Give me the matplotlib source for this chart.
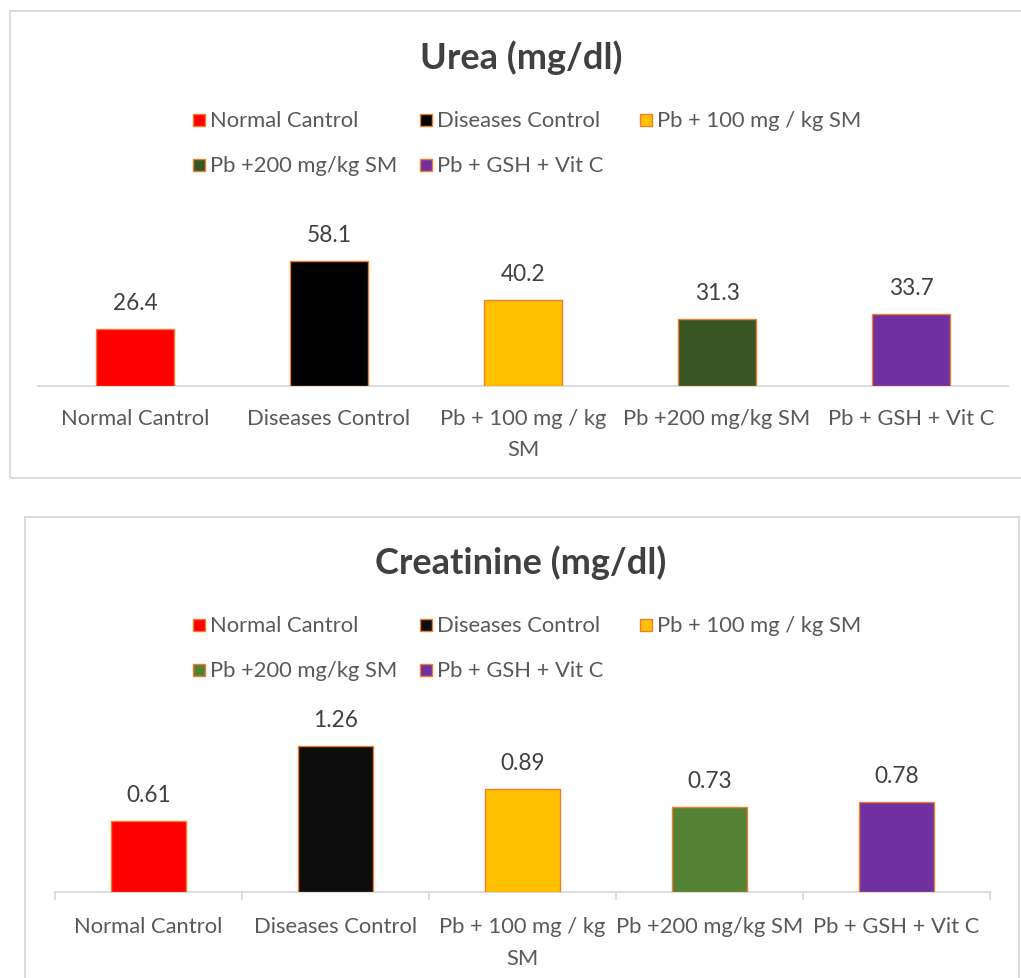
import matplotlib
matplotlib.use('Agg')
import matplotlib.pyplot as plt
from matplotlib.patches import Rectangle

plt.rcParams['font.family'] = ['Lato', 'DejaVu Sans']

# dados
grupos = ['Normal Cantrol', 'Diseases Control', 'Pb + 100 mg / kg SM',
          'Pb +200 mg/kg SM', 'Pb + GSH + Vit C']
rotulos_x = ['Normal Cantrol', 'Diseases Control', 'Pb + 100 mg / kg\nSM',
             'Pb +200 mg/kg SM', 'Pb + GSH + Vit C']
urea = [26.4, 58.1, 40.2, 31.3, 33.7]
creatinina = [0.61, 1.26, 0.89, 0.73, 0.78]
rotulos_urea = ['26.4', '58.1', '40.2', '31.3', '33.7']
rotulos_creat = ['0.61', '1.26', '0.89', '0.73', '0.78']

cores_urea = ['#FF0000', '#000000', '#FFC000', '#375623', '#7030A0']
cores_creat = ['#FF0000', '#0D0D0D', '#FFC000', '#548235', '#7030A0']
borda = '#ED7D31'
cinza = '#D9D9D9'
txt_escuro = '#404040'
txt_claro = '#595959'

W, H = 1021, 979
fig = plt.figure(figsize=(W / 100, H / 100), dpi=100)


def fx(x):
    return x / W


def fy(y):
    return 1 - y / H


def grafico(esq, dir_, base, altura, ymax, valores, rotulos, cores,
            titulo, y_titulo, y_leg, caixa, ticks, pad):
    # moldura do grafico
    x0, y0, x1, y1 = caixa
    fig.patches.append(Rectangle((fx(x0), fy(y1)), fx(x1 - x0), (y1 - y0) / H,
                                 transform=fig.transFigure, fill=False,
                                 edgecolor=cinza, linewidth=1.3))
    ax = fig.add_axes([fx(esq), fy(base), fx(dir_ - esq), altura / H])
    pos = range(len(valores))
    ax.bar(pos, valores, width=0.4, color=cores, edgecolor=borda,
           linewidth=1.0, zorder=3)
    ax.set_xlim(-0.5, len(valores) - 0.5)
    ax.set_ylim(0, ymax)
    for s in ['top', 'right', 'left']:
        ax.spines[s].set_visible(False)
    ax.spines['bottom'].set_color(cinza)
    ax.spines['bottom'].set_linewidth(1.3)
    ax.set_yticks([])
    ax.set_xticks(list(pos))
    ax.set_xticklabels(rotulos_x, fontsize=15.8, color=txt_claro,
                       linespacing=1.7)
    ax.tick_params(axis='x', which='major', length=0, pad=pad)
    if ticks:
        ax.set_xticks([i - 0.5 for i in range(len(valores) + 1)], minor=True)
        ax.tick_params(axis='x', which='minor', length=6, color=cinza,
                       width=1.3)
    # rotulos dos dados
    for i, v in enumerate(valores):
        ax.annotate(rotulos[i], (i, v), xytext=(0, 19), textcoords='offset points',
                    ha='center', va='center', fontsize=16.3, color=txt_escuro)
    # titulo
    fig.text(fx(521), fy(y_titulo), titulo, ha='center', va='center',
             fontsize=26, fontweight='bold', color=txt_escuro)
    # legenda
    xs_m = [193, 420, 640, 193, 420]
    linhas = [0, 0, 0, 1, 1]
    for i, g in enumerate(grupos):
        ym = y_leg + linhas[i] * 45
        fig.patches.append(Rectangle((fx(xs_m[i]), fy(ym + 6)), 12 / W, 12 / H,
                                     transform=fig.transFigure,
                                     facecolor=cores[i], edgecolor=borda,
                                     linewidth=1.0))
        fig.text(fx(xs_m[i] + 17), fy(ym), g, ha='left', va='center',
                 fontsize=15.8, color=txt_claro)
    return ax


grafico(38, 1008, 387, 150.5, 70, urea, rotulos_urea, cores_urea,
        'Urea (mg/dl)', 58, 121, (10, 12, 1040, 479), False, 16)
grafico(55, 990, 893, 162.3, 1.4, creatinina, rotulos_creat, cores_creat,
        'Creatinine (mg/dl)', 563, 626, (25, 518, 1019, 1000), True, 17.5)

plt.savefig('out.png', dpi=100)
